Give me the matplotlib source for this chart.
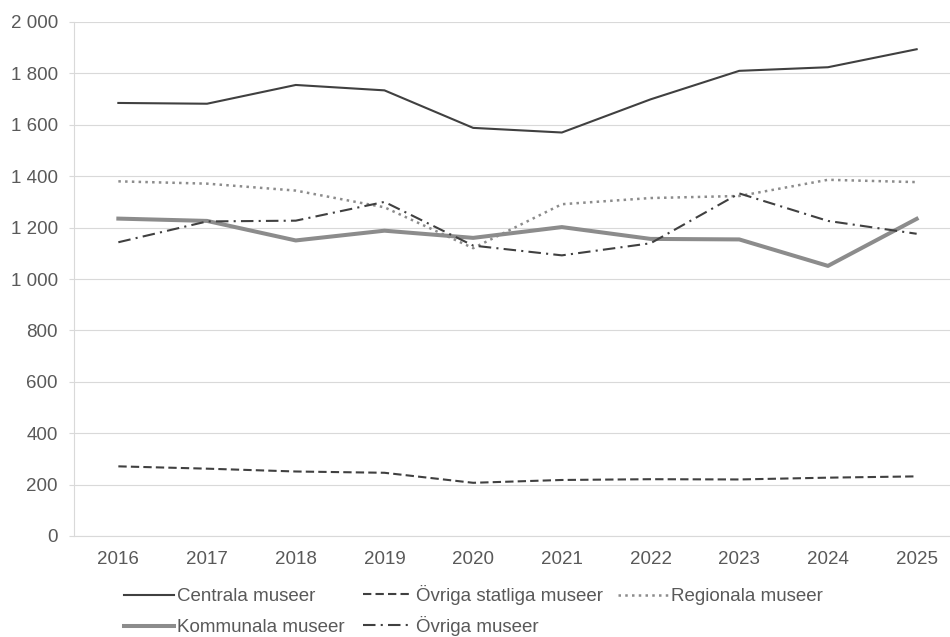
import matplotlib
matplotlib.use("Agg")
import matplotlib.pyplot as plt
from matplotlib.ticker import MultipleLocator, FuncFormatter

# data
years = ["2016", "2017", "2018", "2019", "2020", "2021", "2022", "2023", "2024", "2025"]
centrala = [1685, 1682, 1755, 1734, 1588, 1570, 1699, 1810, 1824, 1894]
ovriga_statliga = [271, 262, 251, 246, 207, 218, 221, 220, 227, 232]
regionala = [1380, 1371, 1344, 1279, 1120, 1291, 1315, 1323, 1386, 1377]
kommunala = [1235, 1226, 1150, 1188, 1160, 1202, 1156, 1154, 1051, 1234]
ovriga_museer = [1143, 1224, 1227, 1300, 1130, 1092, 1139, 1333, 1226, 1176]

dark = "#404040"
gray = "#8c8c8c"
grid_col = "#d9d9d9"
txt_col = "#595959"

plt.rcParams['font.family'] = ['Liberation Sans', 'DejaVu Sans']
plt.rcParams['font.size'] = 13.5

fig = plt.figure(figsize=(9.5, 6.37), dpi=100)
# plot area runs past the right edge, as in the reference
ax = fig.add_axes([74 / 950, 1 - 536 / 637, (961 - 74) / 950, (536 - 22) / 637])

x = list(range(len(years)))
l1, = ax.plot(x, centrala, color=dark, lw=1.5, label="Centrala museer")
l2, = ax.plot(x, ovriga_statliga, color=dark, lw=1.5, linestyle=(0, (4, 2)),
              label="Övriga statliga museer")
l3, = ax.plot(x, regionala, color=gray, lw=1.8, linestyle=(0, (1, 1.7)),
              label="Regionala museer")
l4, = ax.plot(x, kommunala, color=gray, lw=2.9, label="Kommunala museer")
l5, = ax.plot(x, ovriga_museer, color=dark, lw=1.5, linestyle=(0, (6, 2.5, 1, 2.5)),
              label="Övriga museer")

ax.set_xlim(-0.5, len(years) - 0.5)
ax.set_ylim(0, 2000)
ax.set_xticks(x)
ax.set_xticklabels(years)
ax.yaxis.set_major_locator(MultipleLocator(200))
ax.yaxis.set_major_formatter(FuncFormatter(lambda v, p: f"{int(v):,}".replace(",", " ")))

ax.grid(axis="y", color=grid_col, lw=0.8)
ax.set_axisbelow(True)
for s in ["top", "right"]:
    ax.spines[s].set_visible(False)
for s in ["left", "bottom"]:
    ax.spines[s].set_color(grid_col)
    ax.spines[s].set_linewidth(0.8)
ax.tick_params(axis="x", length=0, pad=10.5, colors=txt_col)
ax.tick_params(axis="y", length=3.6, width=0.8, color=grid_col, pad=8, labelcolor=txt_col)

# Excel-style legend: three equal-width columns, row-major order
# (x position, top, row spacing) tuned per column so rows line up
cols = [([l1, l4], 124, 588, 0.74), ([l2, l5], 363, 585, 0.58), ([l3], 618, 588, 0.7)]
for hs, px, py, ls in cols:
    fig.legend(handles=hs, loc="upper left", bbox_to_anchor=(px / 950, 1 - py / 637),
               frameon=False, borderpad=0, borderaxespad=0, handlelength=2.67,
               handletextpad=0.15, labelspacing=ls, labelcolor=txt_col, fontsize=13.5)

fig.savefig("out.png", dpi=100)
